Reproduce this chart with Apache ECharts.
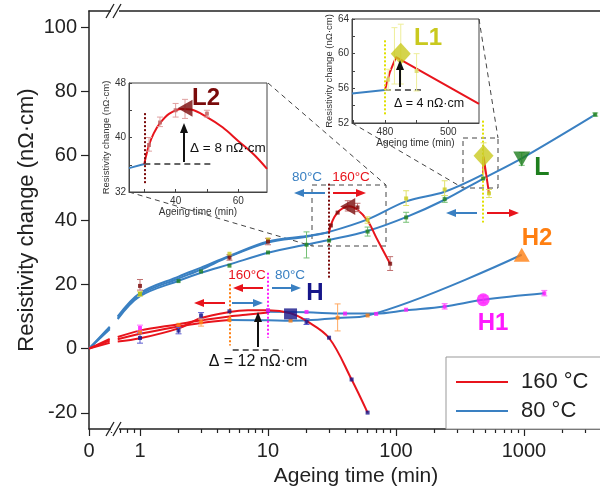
<!DOCTYPE html>
<html><head><meta charset="utf-8">
<script src="https://cdn.jsdelivr.net/npm/echarts@6/dist/echarts.min.js"></script>
<style>html,body{margin:0;padding:0;background:#fff}#c{width:600px;height:490px}</style>
</head><body><div id="c"></div>
<script>
// ===== DATA (ageing time in min, resistivity change in nΩ·cm) =====
const majorTicksX = [0, 1, 10, 100, 1000];
const minorTicksX = [0.6,0.7,0.8,0.9,2,3,4,5,6,7,8,9,20,30,40,50,60,70,80,90,200,300,400,500,600,700,800,900,2000,3000];
const yTickLabels = [-20, 0, 20, 40, 60, 80, 100];
const yMinorTicks = [-10, 10, 30, 50, 70, 90];
const legendNames = ['160 °C', '80 °C'];

// fitted curves – upper group (L, L1, L2)
const L_blue0  = [[0,0],[0.58,6.0]];
const L_blue   = [[0.67,9.2],[1,16.3],[2,21.1],[3,23.6],[5,26.2],[10,29.8],[20,32.4],[30,33.8],[60,36.6],[120,40.9],[240,46.3],[480,52.9],[960,59.2],[3600,72.8]];
const L1_blue0 = [[0,0],[0.58,6.4]];
const L1_blue  = [[0.67,9.6],[1,16.8],[2,21.8],[3,24.6],[5,28.6],[10,33.0],[20,34.8],[30,36.3],[60,40.2],[120,45.8],[240,48.8],[480,54.2]];
const L1_red   = [[480,54.2],[483,59.7],[533,48.3]];
const L2_blue0 = [[0,0],[0.58,6.8]];
const L2_blue  = [[0.67,10.0],[1,17.3],[2,22.4],[3,25.2],[5,28.8],[10,33.3],[20,35.0],[30,36.2]];
const L2_red   = [[30,36.2],[31,38.4],[33,40.9],[36,42.9],[40,44.0],[43,44.3],[50,43.2],[60,39.8],[70,34.6],[90,26.4]];
// fitted curves – lower group (H, H1, H2)
const H_red0   = [[0,0],[0.58,1.8]];
const H_red    = [[0.67,2.2],[1,3.2],[2,6.3],[3,9.5],[5,11.4],[7,11.9],[10,11.9],[15,11.0],[20,8.6],[30,3.3],[45,-9.6],[60,-19.9]];
const H1_red0  = [[0,0],[0.58,3.0]];
const H1_red   = [[0.67,3.6],[1,5.6],[2,7.6],[3,8.8],[5,10.0],[7,10.6],[10,11.2]];
const H1_blue  = [[10,11.5],[20,11.3],[40,10.9],[70,10.9],[120,11.9],[240,13.1],[480,15.2],[1440,17.2]];
const H2_red0  = [[0,0],[0.58,2.5]];
const H2_red   = [[0.67,2.9],[1,4.6],[2,6.9],[3,8.0],[5,8.9]];
const H2_blue  = [[5,8.9],[10,8.8],[15,8.7],[20,8.8],[35,9.5],[60,10.3],[960,29.2]];

// measured points
const L_pts  = [[1,17],[2,21],[3,24],[5,25.8],[10,29.9],[20,32.3],[30,33.6],[60,36.4],[120,40.8],[240,46.5],[480,52.9],[3600,72.8]];
const L1_pts = [[1,17],[5,29.5],[10,33.9],[60,40],[120,46.7],[240,49.5],[533,48.3]];
const L2_pts = [[1,19.5],[5,28.3],[10,33.3],[31,38.3],[35,42.3],[50,43.9],[90,26.4]];
const H_pts  = [[1,3.3],[2,5.6],[3,10.3],[5,11.6],[10,11.8],[20,8.3],[30,3.4],[45,-9.6],[60,-19.9]];
const H1_pts = [[1,6.4],[10,11.9],[20,11.4],[40,10.9],[70,10.8],[120,12.1],[240,13.1],[1440,17.2]];
const H2_pts = [[1,5.1],[2,7.4],[3,8.2],[5,8.9],[15,8.7],[35,9.6],[60,10.3]];
// error bars [t, low, high]
const L_err  = [[20,28.2,36.3],[60,35,37.8],[120,39.3,42.4],[240,45.5,47.6],[960,57,61],[3600,72.3,73.3]];
const L1_err = [[1,16.3,17.7],[60,39,41],[120,44.5,49.1],[240,47.6,52.2],[483,53,64],[533,47,49.5]];
const L2_err = [[1,18.2,21.5],[5,27.5,29.2],[10,32.3,34.3],[42,42.8,46],[50,42.6,45.2],[90,24.3,28.6]];
const H_err  = [[1,1.7,4.9],[2,4.6,6.6],[3,9.3,11.2],[20,7.5,9.3]];
const H1_err = [[1,5.5,7.3],[240,12.3,14],[480,14.2,16.4],[1440,16.4,18.1]];
const H2_err = [[3,7,9.2],[35,5.5,13.9]];
// key samples
const L_key = [[960,59]], L1_key = [[483,60]], L2_key = [[42,44.2]];
const H_key = [[15,10.8]], H1_key = [[480,15.2]], H2_key = [[960,29.2]];
// switch times: [t, vFrom, vTo]
const sw_L2 = [30,51.3,21.8], sw_L1 = [480,70.9,39.2], sw_H2 = [5,20,1], sw_H1 = [10,23.6,3.4];
const deltaMain = [[5.3,-0.3],[13.1,-0.3]];

// inset L2
const in2_blue = [[25.1,35.5],[30,36.1]];
const in2_red  = [[30,36.1],[30.5,37.2],[31.5,38.9],[33,40.6],[35,42.1],[38,43.5],[42,44.2],[45,44.1],[50,43],[55,41.5],[60,39.5],[65,37.5],[69.2,35.4]];
const in2_pts  = [[31.5,38.9],[35,42.2],[40,44],[50,43.5]];
const in2_err  = [[31.5,38,40],[35,41.6,43],[40,43,45],[43,42.8,45.6],[50,43,44]];
const in2_key  = [[43,44.3]];
const in2_sw   = [30,33.3,43.7];
const in2_base = [[30,36.1],[52,36.1]];
// inset L1
const in1_blue = [[469.6,55.4],[480,55.8]];
const in1_red  = [[480,55.8],[481.5,57.8],[483.5,59.6],[509.7,54.2]];
const in1_pts  = [[481,57],[490,58]];
const in1_err  = [[481,55.8,58.2],[483,56.5,63],[485,56.5,63.4],[490,55.7,60]];
const in1_key  = [[485,60]];
const in1_sw   = [480,53,61.7];
const in1_base = [[480,55.8],[491.6,55.8]];

// ===== STYLE =====
const FF = 'Liberation Sans, Arial, sans-serif';
const RED = '#e8141c', BLUE = '#3a80c2';
const C = {L:'#1e7e1e', L1:'#c9c91e', L2:'#7a0a0a', H:'#16168a', H1:'#ff19ff', H2:'#ff7f11'};
const CE = {L:'#74c074', L1:'#e2e26a', L2:'#c07070', H:'#5a5ad0', H1:'#ff70ff', H2:'#ffa860'};
const K = 0.3984;                     // decade units from 0 to t=1
const XMAX = 511/128;
const u = t => t <= 0 ? 0 : Math.log10(t) + K;
const id = t => t;
const AX = '#222';

function fit(data, color, name, xi, yi, tx, smooth){
  return {type:'line', name, xAxisIndex:xi, yAxisIndex:yi, data:data.map(p=>[tx(p[0]),p[1]]),
    smooth: smooth===undefined?0.35:smooth, symbol:'none', lineStyle:{color,width:2}, itemStyle:{color},
    z:3, silent:true, animation:false};
}
function pts(data, color, xi, yi, tx){
  return {type:'scatter', xAxisIndex:xi, yAxisIndex:yi, data:data.map(p=>[tx(p[0]),p[1]]),
    symbol:'rect', symbolSize:4, itemStyle:{color}, z:6, silent:true, animation:false};
}
function key(data, color, symbol, size, rot, xi, yi, tx){
  return {type:'scatter', xAxisIndex:xi, yAxisIndex:yi, data:data.map(p=>[tx(p[0]),p[1]]),
    symbol, symbolSize:size, symbolRotate:rot, itemStyle:{color}, z:8, silent:true, animation:false};
}
function err(data, color, xi, yi, tx){
  return {type:'custom', xAxisIndex:xi, yAxisIndex:yi, data:data.map(p=>[tx(p[0]),p[1],p[2]]),
    encode:{x:0,y:[1,2]}, z:5, silent:true, animation:false,
    renderItem:(params, api)=>{
      const a = api.coord([api.value(0), api.value(1)]), b = api.coord([api.value(0), api.value(2)]);
      const w = 3, st = {stroke:color, lineWidth:1};
      return {type:'group', children:[
        {type:'line', shape:{x1:a[0],y1:a[1],x2:b[0],y2:b[1]}, style:st},
        {type:'line', shape:{x1:a[0]-w,y1:a[1],x2:a[0]+w,y2:a[1]}, style:st},
        {type:'line', shape:{x1:b[0]-w,y1:b[1],x2:b[0]+w,y2:b[1]}, style:st}]};
    }};
}
function vline(sw, color, tx){
  return {silent:true, symbol:['none','none'], label:{show:false}, animation:false,
    lineStyle:{type:[2,2], width:2, color},
    data:[[{coord:[tx(sw[0]),sw[1]]},{coord:[tx(sw[0]),sw[2]]}]]};
}
function dline(seg, tx){
  return {silent:true, symbol:['none','none'], label:{show:false}, animation:false,
    lineStyle:{type:[6,4], width:1.5, color:'#333'},
    data:[[{coord:[tx(seg[0][0]),seg[0][1]]},{coord:[tx(seg[1][0]),seg[1][1]]}]]};
}

const series = [];
// main grid (x 0, y 0)
[L_blue0, L_blue, L1_blue0, L1_blue, L2_blue0, L2_blue, H1_blue, H2_blue].forEach(d=>series.push(fit(d, BLUE, '80 °C', 0, 0, u)));
[H_red0, H_red, H1_red0, H1_red, H2_red0, H2_red, L2_red].forEach(d=>series.push(fit(d, RED, '160 °C', 0, 0, u)));
series.push(fit(L1_red, RED, '160 °C', 0, 0, u, false));
series[series.length-1].markLine = vline(sw_L1, '#e0e000', u);
series[series.length-2].markLine = vline(sw_L2, C.L2, u);
series[6].markLine = vline(sw_H1, C.H1, u);
series[7].markLine = vline(sw_H2, C.H2, u);
series[9].markLine = dline(deltaMain, u);
[[L_err,'L'],[L1_err,'L1'],[L2_err,'L2'],[H_err,'H'],[H1_err,'H1'],[H2_err,'H2']].forEach(([d,k])=>series.push(err(d, CE[k], 0, 0, u)));
[[L_pts,'L'],[L1_pts,'L1'],[L2_pts,'L2'],[H_pts,'H'],[H1_pts,'H1'],[H2_pts,'H2']].forEach(([d,k])=>series.push(pts(d, C[k], 0, 0, u)));
series.push(key(L_key, C.L, 'triangle', [17,15], 180, 0, 0, u));
series.push(key(L1_key, C.L1, 'diamond', [20,22], 0, 0, 0, u));
series.push(key(L2_key, C.L2, 'triangle', [17,15], 90, 0, 0, u));
series.push(key(H_key, C.H, 'rect', [13,11], 0, 0, 0, u));
series.push(key(H1_key, C.H1, 'circle', 13, 0, 0, 0, u));
series.push(key(H2_key, C.H2, 'triangle', [16,14], 0, 0, 0, u));
// inset L2 (x 3, y 2)
series.push(fit(in2_blue, BLUE, 'in2b', 3, 2, id));
const s2 = fit(in2_red, RED, 'in2r', 3, 2, id);
s2.markLine = vline(in2_sw, C.L2, id);
series.push(s2);
const s2b = fit(in2_base, '#333', 'in2base', 3, 2, id, false);
s2b.lineStyle = {color:'#333', width:1.5, type:[6,4]};
series.push(s2b);
series.push(err(in2_err, '#e0a0a0', 3, 2, id));
series.push(pts(in2_pts, '#c06060', 3, 2, id));
series.push(key(in2_key, C.L2, 'triangle', [17,15], 90, 3, 2, id));
// inset L1 (x 4, y 3)
series.push(fit(in1_blue, BLUE, 'in1b', 4, 3, id));
const s1 = fit(in1_red, RED, 'in1r', 4, 3, id, false);
s1.markLine = vline(in1_sw, '#e0e000', id);
series.push(s1);
const s1b = fit(in1_base, '#333', 'in1base', 4, 3, id, false);
s1b.lineStyle = {color:'#333', width:1.5, type:[6,4]};
series.push(s1b);
series.push(err(in1_err, '#eeee99', 4, 3, id));
series.push(pts(in1_pts, '#d8d860', 4, 3, id));
series.push(key(in1_key, C.L1, 'diamond', [20,22], 0, 4, 3, id));

const fmtX = v => v < 1e-9 ? '0' : String(Math.round(Math.pow(10, v - K)));
const tickLS = {color:AX, width:1.2};
function insetX(gi, min, max, ticks, labels){
  return {gridIndex:gi, type:'value', min, max, position:'bottom',
    axisLine:{onZero:false, lineStyle:{color:'#444',width:1}},
    axisTick:{inside:true, length:3, customValues:ticks, lineStyle:{color:'#444'}},
    axisLabel:{customValues:labels, fontSize:10, color:'#333', margin:4, fontFamily:FF},
    splitLine:{show:false},
    name:'Ageing time (min)', nameLocation:'middle', nameGap:13,
    nameTextStyle:{fontSize:10, color:'#333', fontFamily:FF}};
}
function insetY(gi, min, max, ticks, labels){
  return {gridIndex:gi, type:'value', min, max,
    axisLine:{onZero:false, lineStyle:{color:'#444',width:1}},
    axisTick:{inside:true, length:3, customValues:ticks, lineStyle:{color:'#444'}},
    axisLabel:{customValues:labels, fontSize:10, color:'#333', margin:3, fontFamily:FF},
    splitLine:{show:false},
    name:'Resistivity change (nΩ·cm)', nameLocation:'middle', nameGap:17,
    nameTextStyle:{fontSize:9.5, color:'#333', fontFamily:FF}};
}

function arrow(x1,y1,x2,y2,color,w){
  const dx=x2-x1, dy=y2-y1, len=Math.hypot(dx,dy), ux=dx/len, uy=dy/len;
  const hl=10, hw=4, bx=x2-ux*hl, by=y2-uy*hl;
  return [{type:'line', z:100, shape:{x1,y1,x2:bx,y2:by}, style:{stroke:color,lineWidth:w||2}},
          {type:'polygon', z:100, shape:{points:[[x2,y2],[bx-uy*hw,by+ux*hw],[bx+uy*hw,by-ux*hw]]}, style:{fill:color}}];
}
function txt(x,y,text,color,size,bold,align){
  return {type:'text', z:100, x, y, style:{text, fill:color, fontSize:size, fontWeight:bold?'bold':'normal',
    fontFamily:FF, align:align||'center', verticalAlign:'middle'}};
}
function dash(x1,y1,x2,y2){
  return {type:'line', z:1, shape:{x1,y1,x2,y2}, style:{stroke:'#444', lineWidth:1, lineDash:[5,4]}};
}
function brk(x,y){
  return [{type:'rect', z:100, shape:{x:x-4,y:y-3,width:8,height:6}, style:{fill:'#fff'}},
    {type:'line', z:101, shape:{x1:x-9,y1:y+7,x2:x-1,y2:y-7}, style:{stroke:AX,lineWidth:1.3}},
    {type:'line', z:101, shape:{x1:x-2,y1:y+7,x2:x+6,y2:y-7}, style:{stroke:AX,lineWidth:1.3}}];
}

const graphic = [].concat(
  brk(115,429), brk(115,11),
  // zoom boxes & connectors
  [{type:'rect', z:1, shape:{x:312,y:185,width:74,height:61}, style:{fill:null, stroke:'#444', lineWidth:1, lineDash:[5,4]}},
   {type:'rect', z:1, shape:{x:463,y:138,width:35,height:50}, style:{fill:null, stroke:'#444', lineWidth:1, lineDash:[5,4]}},
   dash(268,83,386,185), dash(129,192,312,246), dash(352,123,463,188), dash(479,19,498,138)],
  // temperature switch arrows
  arrow(325,193,294,193,BLUE), arrow(333,193,366,193,RED),
  arrow(477,213,446,213,BLUE), arrow(487,213,519,213,RED),
  arrow(263,288,233,288,RED), arrow(272,288,301,288,BLUE),
  arrow(225,303,194,303,RED), arrow(232,303,263,303,BLUE),
  arrow(258,347,258,312,'#111'), arrow(184,162,184,123,'#111'), arrow(400,87,400,60,'#111'),
  [txt(307,177,'80°C',BLUE,13.5), txt(351,177,'160°C',RED,13.5),
   txt(247,275,'160°C',RED,13.5), txt(290,275,'80°C',BLUE,13.5),
   txt(258,362,'Δ = 12 nΩ·cm','#111',16),
   txt(190,148,'Δ = 8 nΩ·cm','#111',13.5,false,'left'),
   txt(394,104,'Δ = 4 nΩ·cm','#111',12.5,false,'left'),
   txt(542,168,'L',C.L,25,true), txt(537,238,'H2',C.H2,24,true),
   txt(493,323,'H1',C.H1,24,true), txt(315,293,'H',C.H,24,true),
   txt(206,98,'L2',C.L2,24,true), txt(428,38,'L1',C.L1,24,true)]
);

const chart = echarts.init(document.getElementById('c'), null, {renderer:'canvas'});
chart.setOption({
  animation:false,
  backgroundColor:'#fff',
  textStyle:{fontFamily:FF},
  grid:[
    {left:89, right:0, top:11, bottom:61, outerBoundsMode:'none', containLabel:false},
    {left:129, top:83, width:138, height:109, show:true, backgroundColor:'#fff', borderColor:'#444', borderWidth:1, outerBoundsMode:'none', containLabel:false},
    {left:352, top:19, width:127, height:104, show:true, backgroundColor:'#fff', borderColor:'#444', borderWidth:1, outerBoundsMode:'none', containLabel:false}
  ],
  legend:{left:446, top:357, orient:'vertical', icon:'rect', itemWidth:52, itemHeight:2, itemGap:7,
    padding:[14,80,7,10], borderColor:'#999', borderWidth:1, backgroundColor:'#fff',
    textStyle:{fontSize:22, color:'#222', fontFamily:FF, padding:[0,0,0,8]},
    selectedMode:false, data:legendNames, z:20},
  xAxis:[
    {gridIndex:0, type:'value', min:0, max:XMAX, position:'bottom',
     axisLine:{onZero:false, lineStyle:{color:AX,width:1.5}},
     axisTick:{customValues:majorTicksX.map(u), length:7, lineStyle:tickLS},
     axisLabel:{customValues:majorTicksX.map(u), formatter:fmtX, fontSize:20, color:AX, margin:12, fontFamily:FF},
     splitLine:{show:false},
     name:'Ageing time (min)', nameLocation:'middle', nameGap:36,
     nameTextStyle:{fontSize:21, color:AX, fontFamily:FF, padding:[0,0,0,23]}},
    {gridIndex:0, type:'value', min:0, max:XMAX, position:'bottom',
     axisLine:{show:false, onZero:false}, axisTick:{customValues:minorTicksX.map(u), length:4, lineStyle:tickLS},
     axisLabel:{show:false}, splitLine:{show:false}},
    {gridIndex:0, type:'value', min:0, max:XMAX, position:'top',
     axisLine:{show:true, onZero:false, lineStyle:{color:AX,width:1.5}}, axisTick:{show:false},
     axisLabel:{show:false}, splitLine:{show:false}},
    insetX(1, 25.1, 69.2, [30,40,50,60], [40,60]),
    insetX(2, 469.6, 509.7, [470,480,490,500], [480,500])
  ],
  yAxis:[
    {gridIndex:0, type:'value', min:-25, max:105,
     axisLine:{onZero:false, lineStyle:{color:AX,width:1.5}},
     axisTick:{customValues:yTickLabels, length:8, lineStyle:tickLS},
     axisLabel:{customValues:yTickLabels, fontSize:20, color:AX, margin:12, fontFamily:FF},
     splitLine:{show:false},
     name:'Resistivity change (nΩ·cm)', nameLocation:'middle', nameGap:51, nameMoveOverlap:false,
     nameTextStyle:{fontSize:22, color:AX, fontFamily:FF}},
    {gridIndex:0, type:'value', min:-25, max:105,
     axisLine:{show:false, onZero:false}, axisTick:{customValues:yMinorTicks, length:4, lineStyle:tickLS},
     axisLabel:{show:false}, splitLine:{show:false}},
    insetY(1, 32, 48, [32,36,40,44,48], [32,40,48]),
    insetY(2, 52, 64, [52,54,56,58,60,62,64], [52,56,60,64])
  ],
  series,
  graphic
});
</script></body></html>
